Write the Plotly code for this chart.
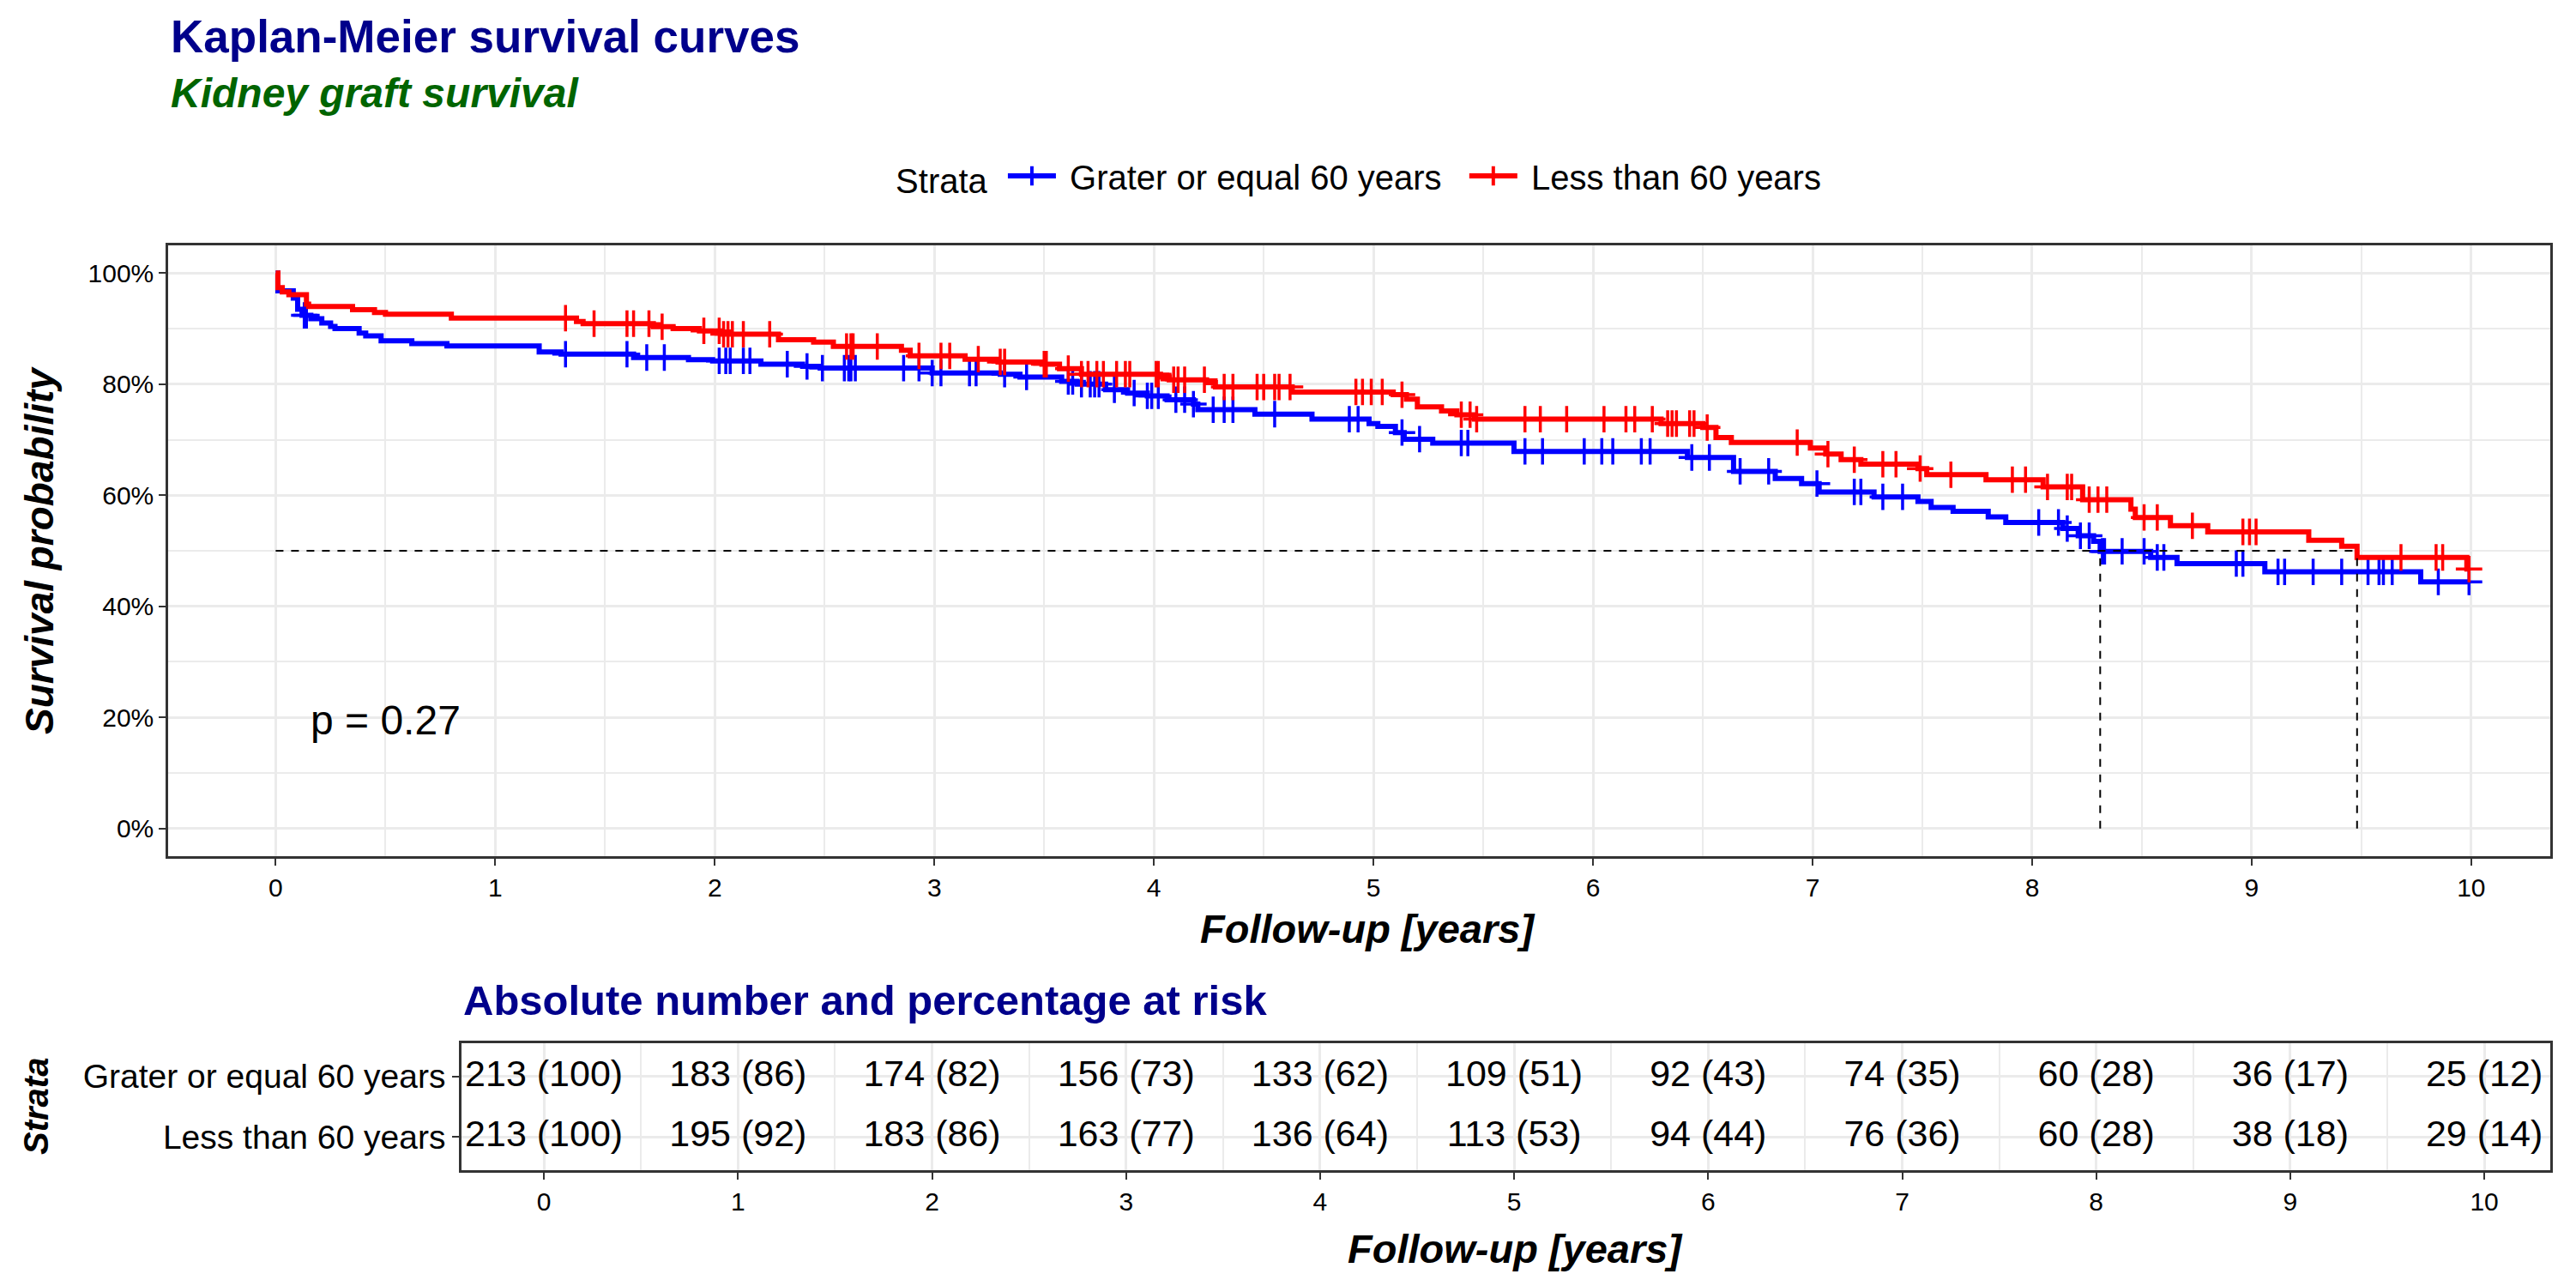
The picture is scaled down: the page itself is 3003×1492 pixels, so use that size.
import bisect
import plotly.graph_objects as go

# ---------------- data ----------------
strata = ["Grater or equal 60 years", "Less than 60 years"]
colors = ["#0000FF", "#FF0000"]

# step curves (event times in years, survival in %)
blue_t = [0, 0.01, 0.08, 0.10, 0.12, 0.16, 0.21, 0.25, 0.27, 0.38, 0.41, 0.48, 0.62, 0.78, 1.20, 1.30, 1.63,
          1.88, 1.99, 2.21, 2.40, 2.48, 2.99, 3.30, 3.39, 3.58, 3.65, 3.78, 3.88, 3.97, 4.06, 4.18, 4.20, 4.46,
          4.72, 4.98, 5.02, 5.10, 5.14, 5.27, 5.64, 6.43, 6.64, 6.83, 6.95, 7.03, 7.28, 7.48, 7.54, 7.64, 7.80,
          7.88, 8.14, 8.21, 8.28, 8.31, 8.54, 8.66, 9.06, 9.77]
blue_s = [100, 96.8, 95.5, 93.5, 92.4, 91.8, 91.0, 90.4, 90.0, 89.2, 88.7, 87.8, 87.3, 86.9, 85.8, 85.4, 84.8,
          84.4, 84.2, 83.6, 83.2, 82.9, 82.0, 81.8, 81.3, 80.5, 80.0, 79.0, 78.4, 77.9, 77.2, 76.4, 75.4, 74.6,
          73.7, 72.9, 72.4, 71.3, 70.1, 69.4, 67.9, 66.8, 64.3, 63.0, 62.1, 60.6, 59.7, 58.9, 57.8, 57.1, 56.1,
          55.1, 54.0, 52.7, 51.7, 49.9, 48.8, 47.7, 46.2, 44.4]
blue_cens = [0.13, 0.14, 1.32, 1.60, 1.69, 1.77, 2.02, 2.05, 2.07, 2.13, 2.16, 2.33, 2.42, 2.49, 2.59, 2.61, 2.62,
             2.64, 2.86, 2.93, 2.99, 3.03, 3.16, 3.19, 3.32, 3.42, 3.61, 3.63, 3.67, 3.71, 3.73, 3.75, 3.82, 3.91,
             3.97, 3.99, 4.02, 4.10, 4.14, 4.18, 4.27, 4.32, 4.36, 4.55, 4.89, 4.93, 5.13, 5.21, 5.40, 5.43, 5.69,
             5.77, 5.96, 6.04, 6.09, 6.22, 6.26, 6.45, 6.53, 6.67, 6.80, 7.02, 7.19, 7.22, 7.32, 7.41, 8.03, 8.12,
             8.16, 8.22, 8.26, 8.32, 8.33, 8.41, 8.51, 8.57, 8.60, 8.93, 8.96, 9.12, 9.15, 9.28, 9.41, 9.53, 9.58,
             9.60, 9.64, 9.85, 9.99]

red_t = [0, 0.01, 0.03, 0.06, 0.14, 0.15, 0.35, 0.45, 0.50, 0.80, 1.37, 1.40, 1.72, 1.81, 1.93, 2.03, 2.29, 2.45,
         2.54, 2.85, 2.89, 3.14, 3.29, 3.49, 3.57, 3.67, 4.03, 4.07, 4.24, 4.28, 4.63, 5.09, 5.15, 5.20, 5.31,
         5.38, 5.46, 6.31, 6.50, 6.56, 6.63, 6.99, 7.06, 7.13, 7.22, 7.48, 7.52, 7.79, 8.05, 8.23, 8.45, 8.47,
         8.63, 8.80, 9.26, 9.41, 9.48, 9.98]
red_s = [100, 97.4, 96.6, 96.1, 94.4, 94.0, 93.4, 92.9, 92.6, 91.9, 91.3, 90.9, 90.35, 90.0, 89.6, 89.0, 88.0,
         87.6, 86.8, 86.1, 85.1, 84.5, 84.0, 83.6, 82.8, 81.8, 81.3, 80.8, 80.3, 79.5, 78.6, 78.1, 77.3, 75.9,
         75.2, 74.5, 73.7, 72.9, 72.2, 70.4, 69.5, 68.5, 67.4, 66.4, 65.6, 64.8, 63.7, 62.8, 61.5, 59.2, 57.5,
         56.0, 54.5, 53.4, 51.9, 50.8, 48.8, 46.7]
red_cens = [1.32, 1.45, 1.60, 1.63, 1.70, 1.76, 1.95, 2.02, 2.04, 2.06, 2.08, 2.13, 2.25, 2.60, 2.62, 2.63, 2.74,
            2.93, 3.03, 3.07, 3.20, 3.30, 3.32, 3.50, 3.51, 3.61, 3.67, 3.70, 3.74, 3.77, 3.83, 3.87, 3.89, 4.01,
            4.02, 4.09, 4.11, 4.14, 4.23, 4.32, 4.36, 4.47, 4.50, 4.55, 4.57, 4.62, 4.92, 4.95, 4.99, 5.04, 5.13,
            5.40, 5.44, 5.47, 5.69, 5.76, 5.88, 6.05, 6.15, 6.19, 6.27, 6.34, 6.36, 6.38, 6.44, 6.46, 6.52, 6.93,
            7.07, 7.19, 7.32, 7.38, 7.49, 7.63, 7.91, 7.97, 8.07, 8.16, 8.18, 8.26, 8.30, 8.34, 8.51, 8.57, 8.73,
            8.96, 8.99, 9.02, 9.68, 9.84, 9.87, 9.99]

median_times = [8.31, 9.48]
p_value_text = "p = 0.27"

risk_times = [0, 1, 2, 3, 4, 5, 6, 7, 8, 9, 10]
risk_n_ge60 = [213, 183, 174, 156, 133, 109, 92, 74, 60, 36, 25]
risk_pct_ge60 = [100, 86, 82, 73, 62, 51, 43, 35, 28, 17, 12]
risk_n_lt60 = [213, 195, 183, 163, 136, 113, 94, 76, 60, 38, 29]
risk_pct_lt60 = [100, 92, 86, 77, 64, 53, 44, 36, 28, 18, 14]

x_ticks = [0, 1, 2, 3, 4, 5, 6, 7, 8, 9, 10]
y_ticks = [0, 20, 40, 60, 80, 100]
y_tick_labels = ["0%", "20%", "40%", "60%", "80%", "100%"]

# ---------------- figure ----------------
W, H = 3003, 1492
FONT = "Liberation Sans, Arial, sans-serif"
GRID = "#EBEBEB"
AX = "#333333"
NB = "\u00a0"


def step_at(times, surv, t):
    i = bisect.bisect_right(times, t) - 1
    return surv[max(i, 0)]


fig = go.Figure()

curves = [(blue_t, blue_s, blue_cens), (red_t, red_s, red_cens)]
for (tt, ss, cc), name, col in zip(curves, strata, colors):
    end_t = max(cc[-1], tt[-1])
    fig.add_trace(go.Scatter(
        x=tt + [end_t], y=ss + [ss[-1]], mode="lines", line=dict(color=col, width=6, shape="hv"),
        showlegend=False, hoverinfo="skip", xaxis="x", yaxis="y"))
    fig.add_trace(go.Scatter(
        x=cc, y=[step_at(tt, ss, c) for c in cc], mode="markers",
        marker=dict(symbol="cross-thin", size=22, line=dict(color=col, width=3.5)),
        showlegend=False, hoverinfo="skip", xaxis="x", yaxis="y"))
    # legend entry
    fig.add_trace(go.Scatter(
        x=[None], y=[None], mode="lines+markers", name=NB + name + NB * 2,
        line=dict(color=col, width=6),
        marker=dict(symbol="cross-thin", size=24, line=dict(color=col, width=4)),
        xaxis="x", yaxis="y"))

# median lines
fig.add_trace(go.Scatter(x=[0, max(median_times)], y=[50, 50], mode="lines",
                         line=dict(color="black", width=2, dash="dash"), showlegend=False,
                         hoverinfo="skip"))
for m in median_times:
    fig.add_trace(go.Scatter(x=[m, m], y=[0, 50], mode="lines",
                             line=dict(color="black", width=2, dash="dash"), showlegend=False,
                             hoverinfo="skip"))

# risk table text
for yv, ns, ps in [(2, risk_n_ge60, risk_pct_ge60), (1, risk_n_lt60, risk_pct_lt60)]:
    fig.add_trace(go.Scatter(
        x=risk_times, y=[yv] * len(risk_times), mode="text",
        text=[f"{n} ({p})" for n, p in zip(ns, ps)],
        textfont=dict(family=FONT, size=43, color="black"),
        showlegend=False, hoverinfo="skip", xaxis="x2", yaxis="y2"))

axis_common = dict(
    showline=True, linecolor=AX, linewidth=2.5, mirror=True,
    ticks="outside", ticklen=8, tickwidth=2, tickcolor=AX,
    showgrid=True, gridcolor=GRID, gridwidth=2.5, zeroline=False,
    tickfont=dict(family=FONT, size=30, color="black"),
)

fig.update_layout(
    width=W, height=H, autosize=False,
    margin=dict(l=0, r=0, t=0, b=0),
    paper_bgcolor="white", plot_bgcolor="white",
    font=dict(family=FONT, color="black"),
    xaxis=dict(domain=[188 / W, 2965 / W], range=[-0.49, 10.36], tickvals=x_ticks,
               minor=dict(dtick=0.5, tick0=0, showgrid=True, gridcolor=GRID, gridwidth=1.6),
               anchor="y", **axis_common),
    yaxis=dict(domain=[1 - 990 / H, 1 - 278 / H], range=[-5, 105], tickvals=y_ticks,
               ticktext=y_tick_labels,
               minor=dict(dtick=10, tick0=0, showgrid=True, gridcolor=GRID, gridwidth=1.6),
               anchor="x", **axis_common),
    xaxis2=dict(domain=[530 / W, 2965 / W], range=[-0.425, 10.34], tickvals=x_ticks,
                minor=dict(dtick=0.5, tick0=0, showgrid=True, gridcolor=GRID, gridwidth=1.6),
                anchor="y2", **axis_common),
    yaxis2=dict(domain=[1 - 1356 / H, 1 - 1208 / H], range=[0.45, 2.55], tickvals=[2, 1],
                ticktext=strata, anchor="x2",
                **{**axis_common, "tickfont": dict(family=FONT, size=39, color="black")}),
    legend=dict(orientation="h", x=0.529, xanchor="center", y=1 - 197 / H, yanchor="middle",
                title=dict(text="Strata" + NB, side="left", font=dict(family=FONT, size=40)),
                font=dict(family=FONT, size=40, color="black"), itemwidth=56,
                bgcolor="rgba(0,0,0,0)"),
    annotations=[
        dict(text="<b>Kaplan-Meier survival curves</b>", xref="paper", yref="paper",
             x=189 / W, y=1 - 34 / H, xanchor="left", yanchor="middle", showarrow=False,
             font=dict(family=FONT, size=53, color="#00008B")),
        dict(text="<b><i>Kidney graft survival</i></b>", xref="paper", yref="paper",
             x=189 / W, y=1 - 101 / H, xanchor="left", yanchor="middle", showarrow=False,
             font=dict(family=FONT, size=48, color="#006400")),
        dict(text="<b><i>Follow-up [years]</i></b>", xref="paper", yref="paper",
             x=1586 / W, y=1 - 1074 / H, xanchor="center", yanchor="middle", showarrow=False,
             font=dict(family=FONT, size=47, color="black")),
        dict(text="<b><i>Survival probability</i></b>", xref="paper", yref="paper",
             x=38 / W, y=1 - 634 / H, xanchor="center", yanchor="middle", showarrow=False,
             textangle=-90, font=dict(family=FONT, size=46, color="black")),
        dict(text=p_value_text, xref="x", yref="y", x=0.15, y=19.5, xanchor="left",
             yanchor="middle", showarrow=False, font=dict(family=FONT, size=48, color="black")),
        dict(text="<b>Absolute number and percentage at risk</b>", xref="paper", yref="paper",
             x=530 / W, y=1 - 1158 / H, xanchor="left", yanchor="middle", showarrow=False,
             font=dict(family=FONT, size=49, color="#00008B")),
        dict(text="<b><i>Follow-up [years]</i></b>", xref="paper", yref="paper",
             x=1758 / W, y=1 - 1447 / H, xanchor="center", yanchor="middle", showarrow=False,
             font=dict(family=FONT, size=47, color="black")),
        dict(text="<b><i>Strata</i></b>", xref="paper", yref="paper",
             x=34 / W, y=1 - 1282 / H, xanchor="center", yanchor="middle", showarrow=False,
             textangle=-90, font=dict(family=FONT, size=40, color="black")),
    ],
)

fig.write_html("out.html")
